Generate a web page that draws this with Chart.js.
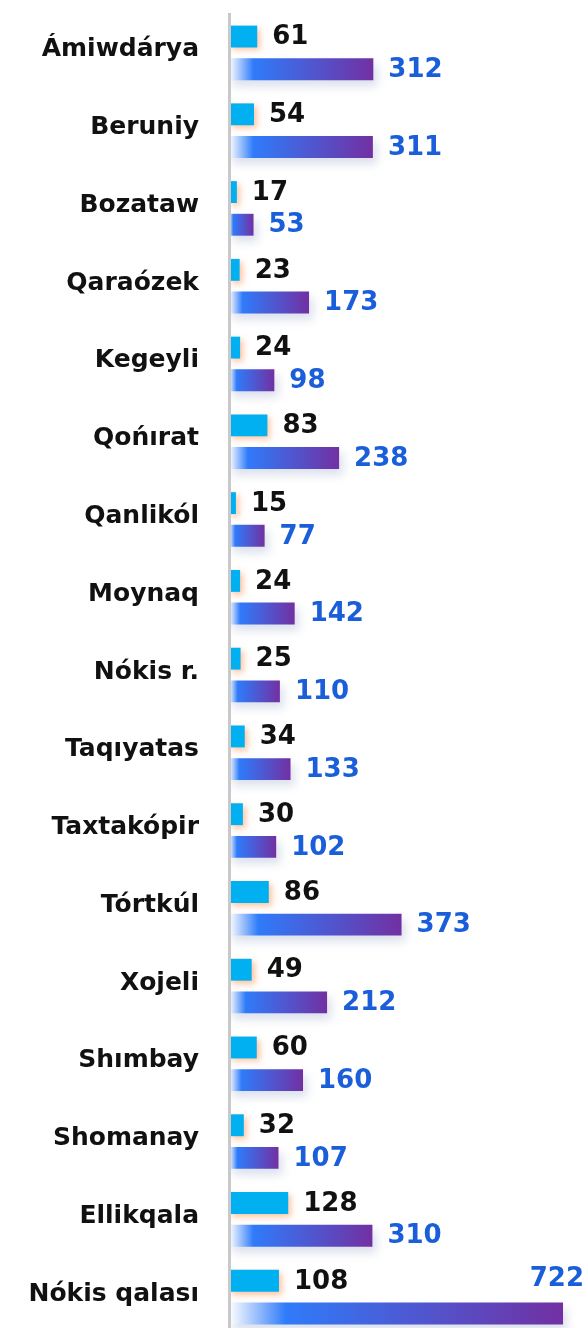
<!DOCTYPE html>
<html>
<head>
<meta charset="utf-8">
<script src="https://cdn.jsdelivr.net/npm/chart.js@4"></script>
<style>
  html, body { margin: 0; padding: 0; background: #fff; overflow: hidden; }
  #wrap { width: 588px; height: 1328px; overflow: hidden; }
</style>
</head>
<body>
<div id="wrap"><canvas id="chart" width="588" height="1336"></canvas></div>
<script>
// Tumanlar boyınsha eki kórsetkish
const regions = ['Ámiwdárya', 'Beruniy', 'Bozataw', 'Qaraózek', 'Kegeyli', 'Qońırat', 'Qanlikól',
  'Moynaq', 'Nókis r.', 'Taqıyatas', 'Taxtakópir', 'Tórtkúl', 'Xojeli', 'Shımbay', 'Shomanay',
  'Ellikqala', 'Nókis qalası'];
const cyanValues = [61, 54, 17, 23, 24, 83, 15, 24, 25, 34, 30, 86, 49, 60, 32, 128, 108];
const purpleValues = [312, 311, 53, 173, 98, 238, 77, 142, 110, 133, 102, 373, 212, 160, 107, 310, 722];

const FONT = '"DejaVu Sans", sans-serif';

// gradient from white through blue to purple along each bar
function barGradient(ctx) {
  const chart = ctx.chart;
  if (ctx.type !== 'data' || !chart.chartArea) return '#4a5bd0';
  const xs = chart.scales.x;
  const x0 = xs.getPixelForValue(0);
  const x1 = xs.getPixelForValue(ctx.raw);
  const g = chart.ctx.createLinearGradient(x0, 0, x1, 0);
  g.addColorStop(0, '#ffffff');
  g.addColorStop(0.17, '#2f7bfa');
  g.addColorStop(1, '#7230a2');
  return g;
}

// soft shadows under the bars
const barShadows = {
  id: 'barShadows',
  beforeDatasetDraw(chart, args) {
    const c = chart.ctx;
    c.save();
    if (args.index === 0) {
      c.shadowColor = 'rgba(250,150,90,0.55)';
      c.shadowBlur = 6;
      c.shadowOffsetX = 3;
      c.shadowOffsetY = 3;
    } else {
      c.shadowColor = 'rgba(150,165,200,0.35)';
      c.shadowBlur = 10;
      c.shadowOffsetX = 4;
      c.shadowOffsetY = 6;
    }
  },
  afterDatasetDraw(chart) {
    chart.ctx.restore();
  }
};

// value labels to the right of each bar
const valueLabels = {
  id: 'valueLabels',
  afterDatasetsDraw(chart) {
    const c = chart.ctx;
    c.save();
    c.font = 'bold 26px ' + FONT;
    c.textBaseline = 'middle';
    chart.data.datasets.forEach((ds, i) => {
      const meta = chart.getDatasetMeta(i);
      c.fillStyle = i === 0 ? '#111111' : '#1a5fd9';
      meta.data.forEach((bar, j) => {
        const text = String(ds.data[j]);
        const w = c.measureText(text).width;
        let x = bar.x + 15;
        let y = bar.y + 1;
        c.textAlign = 'left';
        if (x + w > chart.width - 2) {
          // no room on the right: put it above the bar end
          x = chart.width - 4;
          y = bar.y - 34;
          c.textAlign = 'right';
        }
        c.fillText(text, x, y);
      });
    });
    c.restore();
  }
};

new Chart(document.getElementById('chart'), {
  type: 'bar',
  data: {
    labels: regions,
    datasets: [
      {
        data: cyanValues,
        backgroundColor: '#00b0f0',
        categoryPercentage: 0.84,
        barPercentage: 0.67
      },
      {
        data: purpleValues,
        backgroundColor: barGradient,
        categoryPercentage: 0.84,
        barPercentage: 0.67
      }
    ]
  },
  options: {
    indexAxis: 'y',
    responsive: false,
    animation: false,
    layout: { padding: { top: 14, right: 0, bottom: 0, left: 0 } },
    scales: {
      x: {
        display: false,
        min: 0,
        max: 776
      },
      y: {
        afterFit(scale) {
          scale.width = 229;
          scale.paddingTop = 0;
          scale.paddingBottom = 0;
        },
        grid: { display: false, drawTicks: false },
        border: { display: true, color: '#c9c9c9', width: 3, z: 1 },
        ticks: {
          color: '#111111',
          padding: 30,
          labelOffset: -3,
          font: { family: FONT, size: 25, weight: 'bold' }
        }
      }
    },
    plugins: {
      legend: { display: false },
      tooltip: { enabled: false }
    }
  },
  plugins: [barShadows, valueLabels]
});
</script>
</body>
</html>
